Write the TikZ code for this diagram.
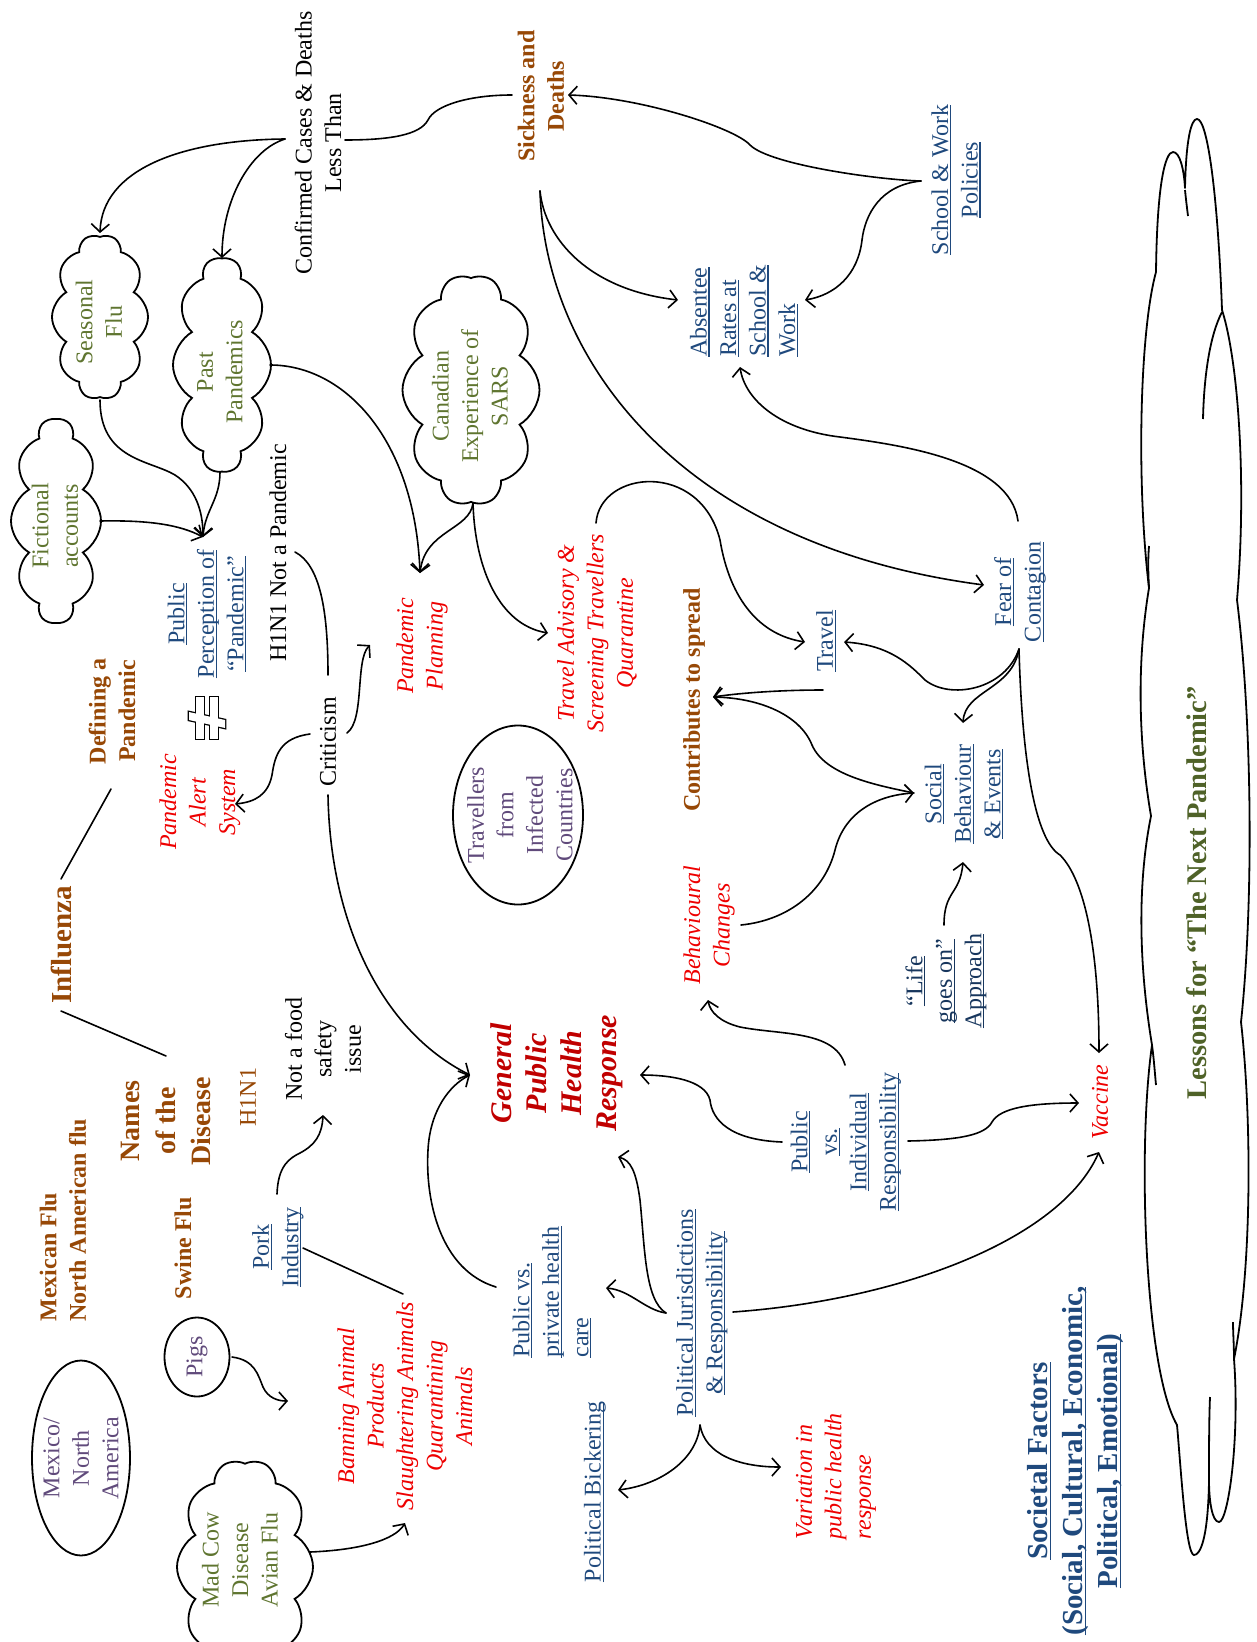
\documentclass[tikz,border=0pt]{standalone}
\usepackage{fontspec}
\setmainfont{Liberation Serif}
\usetikzlibrary{shapes.symbols,shapes.geometric,arrows.meta}
\definecolor{brn}{HTML}{974806}
\definecolor{grn}{HTML}{5F7530}
\definecolor{dgrn}{HTML}{4F6228}
\definecolor{blu}{HTML}{1F497D}
\definecolor{nav}{HTML}{17365D}
\definecolor{rd}{HTML}{EE0000}
\definecolor{drd}{HTML}{C00000}
\definecolor{pur}{HTML}{604A7B}
\newcommand\myfs{\fontsize{24bp}{29.5bp}\selectfont}
\newcommand\ulx[1]{\setbox0\hbox{#1}\leavevmode\rlap{\rule[-3bp]{\wd0}{1.1bp}}\box0}
\begin{document}
\begin{tikzpicture}[x=1bp,y=-1bp,
  txt/.style={rotate=90, align=center, inner sep=1bp, font=\myfs, text=black},
  bl/.style={txt, text=blu},
  rdi/.style={txt, text=rd, font=\myfs\itshape},
  bb/.style={txt, text=brn, font=\myfs\bfseries},
  gr/.style={txt, text=grn},
  pu/.style={txt, text=pur},
  con/.style={line width=1.6bp, line cap=round},
  arr/.style={con, -{Straight Barb[length=8bp,width=18bp]}},
  cld/.style={cloud, draw, line width=1.8bp, cloud puffs=10, cloud puff arc=120, cloud ignores aspect, rotate=90, inner sep=0pt},
  oval/.style={ellipse, draw, line width=1.8bp, rotate=90, inner sep=0pt},
  bigcloud/.style={line width=1.8bp, line join=round}
]
\useasboundingbox (0,0) rectangle (1256,1642);
% ---------- nodes
\node[txt] (conf) at (318,143) {Confirmed Cases \& Deaths\\Less Than};
\node[bb] (sick) at (541,96) {Sickness and\\Deaths};
\node[bl] (swp) at (956,180) {\ulx{School \& Work}\\\ulx{Policies}};
\node[bl, align=left] (abs) at (744,311) {\ulx{Absentee}\\\ulx{Rates at}\\\ulx{School \&}\\\ulx{Work}};
\node[cld, minimum width=165bp, minimum height=96bp] (seaC) at (100,317) {};
\node[gr] (sea) at (99,322) {Seasonal\\Flu};
\node[cld, minimum width=214bp, minimum height=98bp] (pastC) at (222,365) {};
\node[gr] (past) at (220,372) {Past\\Pandemics};
\node[cld, minimum width=204bp, minimum height=90bp] (fictC) at (56,521) {};
\node[gr] (fict) at (55,526) {Fictional\\accounts};
\node[cld, minimum width=231bp, minimum height=137bp] (sarsC) at (471,390) {};
\node[gr] (sars) at (470,396) {Canadian\\Experience of\\SARS};
\node[cld, minimum width=215bp, minimum height=136bp] (madC) at (245,1567) {};
\node[gr] (mad) at (240,1560) {Mad Cow\\Disease\\Avian Flu};
% big cloud drawn as a path
\draw[bigcloud] (1156,272) .. controls (1157,185) and (1165,152) .. (1173,152)
  .. controls (1180,152) and (1184,170) .. (1185,188)
  .. controls (1186,140) and (1191,119) .. (1197,119)
  .. controls (1208,119) and (1218,200) .. (1222,310)
  .. controls (1238,360) and (1247,480) .. (1237,600)
  .. controls (1252,720) and (1254,900) .. (1241,1022)
  .. controls (1252,1120) and (1252,1270) .. (1234,1359)
  .. controls (1240,1440) and (1228,1522) .. (1219,1522)
  .. controls (1212,1522) and (1209,1500) .. (1209,1481)
  .. controls (1208,1540) and (1200,1555) .. (1194,1555)
  .. controls (1186,1555) and (1181,1470) .. (1177,1425)
  .. controls (1145,1370) and (1137,1150) .. (1152,1045)
  .. controls (1138,960) and (1138,880) .. (1151,816)
  .. controls (1138,740) and (1137,660) .. (1149,588)
  .. controls (1136,480) and (1140,330) .. (1156,272) -- cycle;
\draw[bigcloud] (1185,190) .. controls (1186,200) and (1187,208) .. (1188,216);
\draw[bigcloud] (1222,312) .. controls (1210,335) and (1204,375) .. (1203,419);
\draw[bigcloud] (1209,1481) .. controls (1209,1450) and (1209,1420) .. (1210,1397);
\draw[bigcloud] (1234,1359) .. controls (1234,1345) and (1233,1333) .. (1233,1322);
\draw[bigcloud] (1152,1045) .. controls (1154,1060) and (1155,1075) .. (1156,1085);
\draw[bigcloud] (1149,588) .. controls (1148,570) and (1148,558) .. (1149,546);
\node[txt, text=dgrn, font=\fontsize{28.5bp}{34bp}\selectfont\bfseries] (less) at (1197,893) {Lessons for “The Next Pandemic”};
\node[bl] (pp) at (207,614) {\ulx{Public}\\\ulx{Perception of}\\\ulx{“Pandemic”}};
\node[txt] (h1n1) at (278,553) {H1N1 Not a Pandemic};
\node[txt] (crit) at (328,742) {Criticism};
\node[rdi] (pas) at (200,802) {Pandemic\\Alert\\System};
\node[bb] (def) at (112,711) {Defining a\\Pandemic};
\node[txt, text=brn, font=\fontsize{29bp}{35bp}\selectfont\bfseries] (infl) at (61,945) {Influenza};
\node[txt, text=brn, font=\fontsize{28bp}{35.5bp}\selectfont\bfseries] (names) at (166,1121) {Names\\of the\\Disease};
\node[txt, text=brn] (h1) at (248,1097) {H1N1};
\node[txt] (food) at (323,1049) {Not a food\\safety\\issue};
\node[bb, align=left] (mex) at (63,1220) {Mexican Flu\\North American flu};
\node[bb] (swine) at (183,1248) {Swine Flu};
\node[bl] (pork) at (278,1247) {\ulx{Pork}\\\ulx{Industry}};
\node[oval, minimum width=79bp, minimum height=65bp] (pigsE) at (197,1357) {};
\node[pu] (pigs) at (197,1357) {Pigs};
\node[oval, minimum width=195bp, minimum height=98bp] (mexE) at (81,1458) {};
\node[pu] (mexo) at (81,1458) {Mexico/\\North\\America};
\node[rdi] (ban) at (405,1406) {Banning Animal\\Products\\Slaughtering Animals\\Quarantining\\Animals};
\node[rdi] (plan) at (422,646) {Pandemic\\Planning};
\node[rdi] (trav) at (597,633) {Travel Advisory \&\\Screening Travellers\\Quarantine};
\node[oval, minimum width=179bp, minimum height=130bp] (travE) at (518,815) {};
\node[pu] (travl) at (520,815) {Travellers\\from\\Infected\\Countries};
\node[bb] (contr) at (694,700) {Contributes to spread};
\node[bl] (travel) at (826,641) {\ulx{Travel}};
\node[bl] (fear) at (1020,592) {\ulx{Fear of}\\\ulx{Contagion}};
\node[bl] (soc) at (964,794) {\ulx{Social}\\\ulx{Behaviour}\\\ulx{\& Events}};
\node[txt, text=nav] (life) at (946,981) {\ulx{“Life}\\\ulx{goes on”}\\\ulx{Approach}};
\node[rdi] (beh) at (709,925) {Behavioural\\Changes};
\node[txt, text=drd, font=\fontsize{30bp}{35bp}\selectfont\bfseries\itshape] (gphr) at (557,1073) {General\\Public\\Health\\Response};
\node[bl] (pvi) at (846,1142) {\ulx{Public}\\\ulx{vs.}\\\ulx{Individual}\\\ulx{Responsibility}};
\node[rdi] (vac) at (1100,1102) {Vaccine};
\node[bl, align=left] (pvp) at (552,1292) {\ulx{Public vs.}\\\ulx{private health}\\\ulx{care}};
\node[bl] (pj) at (702,1313) {\ulx{Political Jurisdictions}\\\ulx{\& Responsibility}};
\node[bl] (pb) at (595,1492) {\ulx{Political Bickering}};
\node[rdi, align=left] (var) at (836,1476) {Variation in\\public health\\response};
\node[txt, text=blu, font=\fontsize{29bp}{35bp}\selectfont\bfseries] (soci) at (1076,1461) {\ulx{Societal Factors}\\\ulx{(Social, Cultural, Economic,}\\\ulx{Political, Emotional)}};
% not-equal sign
\draw[line width=2.6bp] (196,697) rectangle (204,739);
\draw[line width=2.6bp] (210,697) rectangle (218,739);
\draw[line width=2.6bp] (189,712) -- (225,720) -- (225,728) -- (189,720) -- cycle;
\fill[white] (196,697) rectangle (204,739);
\fill[white] (210,697) rectangle (218,739);
\fill[white] (189,712) -- (225,720) -- (225,728) -- (189,720) -- cycle;
% ---------- connector end points
\coordinate (conf-l) at (285,139);
\coordinate (sea-t) at (100,233);
\coordinate (past-t) at (222,258);
\coordinate (conf-r) at (345,140);
\coordinate (sick-l) at (512,95);
\coordinate (swp-l) at (921,181);
\coordinate (sick-r) at (568,95);
\coordinate (abs-r) at (805,300);
\coordinate (sick-b) at (540,191);
\coordinate (abs-l) at (678,300);
\coordinate (fear-l) at (984,585);
\coordinate (fear-t) at (1018,521);
\coordinate (abs-b) at (740,367);
\coordinate (trav-t) at (596,523);
\coordinate (travel-w) at (805,642);
\coordinate (travel-e) at (844,642);
\coordinate (travel-b) at (823,690);
\coordinate (sars-b) at (473,503);
\coordinate (plan-t) at (420,573);
\coordinate (trav-l) at (548,633);
\coordinate (past-r) at (270,365);
\coordinate (sea-b) at (100,400);
\coordinate (pp-t) at (203,537);
\coordinate (past-b) at (220,472);
\coordinate (fict-r) at (100,521);
\coordinate (h1n1-r) at (295,552);
\coordinate (crit-t) at (328,675);
\coordinate (crit-r) at (347,733);
\coordinate (plan-l) at (370,645);
\coordinate (crit-l) at (310,734);
\coordinate (pas-r) at (235,804);
\coordinate (crit-b) at (328,795);
\coordinate (gphr-l) at (470,1075);
\coordinate (pvp-l) at (496,1287);
\coordinate (pvi-l) at (782,1142);
\coordinate (gphr-r) at (640,1075);
\coordinate (pvi-t) at (845,1065);
\coordinate (beh-b) at (708,1000);
\coordinate (pj-l) at (666,1313);
\coordinate (gphr-b) at (618,1157);
\coordinate (pvp-r) at (606,1288);
\coordinate (pj-b) at (700,1425);
\coordinate (pb-r) at (618,1490);
\coordinate (var-l) at (781,1467);
\coordinate (pj-r) at (733,1312);
\coordinate (vac-b) at (1099,1152);
\coordinate (pvi-r) at (908,1141);
\coordinate (vac-l) at (1079,1103);
\coordinate (fear-b) at (1019,649);
\coordinate (vac-t) at (1099,1053);
\coordinate (soc-t) at (963,723);
\coordinate (life-t) at (944,925);
\coordinate (soc-b) at (963,862);
\coordinate (beh-r) at (741,925);
\coordinate (soc-l) at (914,793);
\coordinate (contr-r) at (713,697);
\coordinate (pork-t) at (277,1194);
\coordinate (food-b) at (323,1115);
\coordinate (pork-r) at (303,1248);
\coordinate (ban-t) at (403,1294);
\coordinate (pigs-r) at (232,1357);
\coordinate (pigs-tip) at (288,1401);
\coordinate (mad-r) at (310,1552);
\coordinate (ban-b) at (405,1523);
\coordinate (infl-t) at (61,879);
\coordinate (def-b) at (111,789);
\coordinate (infl-b) at (61,1011);
\coordinate (names-t) at (166,1056);
% ---------- connectors
\draw[arr] (conf-l) .. controls (180,140) and (102,170) .. (sea-t);
\draw[arr] (conf-l) .. controls (250,150) and (222,200) .. (past-t);
\draw[con] (conf-r) .. controls (390,140) and (420,135) .. (428,120) .. controls (435,105) and (470,95) .. (sick-l);
\draw[arr] (swp-l) .. controls (880,180) and (770,165) .. (750,145) .. controls (735,128) and (640,97) .. (sick-r);
\draw[arr] (swp-l) .. controls (880,185) and (865,215) .. (862,240) .. controls (858,275) and (835,295) .. (abs-r);
\draw[arr] (sick-b) .. controls (545,240) and (590,290) .. (abs-l);
\draw[arr] (sick-b) .. controls (545,360) and (680,545) .. (fear-l);
\draw[arr] (fear-t) .. controls (1010,460) and (900,445) .. (840,437) .. controls (780,430) and (745,400) .. (abs-b);
\draw[arr] (trav-t) .. controls (600,470) and (700,460) .. (720,540) .. controls (730,600) and (760,635) .. (travel-w);
\draw[arr] (sars-b) .. controls (470,530) and (425,530) .. (plan-t);
\draw[arr] (sars-b) .. controls (475,570) and (500,625) .. (trav-l);
\draw[arr] (past-r) .. controls (345,365) and (415,440) .. (plan-t);
\draw[arr] (sea-b) .. controls (100,460) and (150,460) .. (175,475) .. controls (195,488) and (203,510) .. (pp-t);
\draw[arr] (past-b) .. controls (220,500) and (205,510) .. (pp-t);
\draw[arr] (fict-r) .. controls (150,520) and (180,525) .. (pp-t);
\draw[con] (h1n1-r) .. controls (320,565) and (328,610) .. (crit-t);
\draw[arr] (crit-r) .. controls (365,720) and (355,660) .. (plan-l);
\draw[arr] (crit-l) .. controls (280,738) and (275,755) .. (272,775) .. controls (268,795) and (255,802) .. (pas-r);
\draw[arr] (crit-b) .. controls (330,920) and (380,1030) .. (gphr-l);
\draw[arr] (pvp-l) .. controls (440,1270) and (425,1200) .. (428,1150) .. controls (430,1110) and (450,1085) .. (gphr-l);
\draw[arr] (pvi-l) .. controls (730,1140) and (712,1120) .. (710,1100) .. controls (705,1080) and (670,1075) .. (gphr-r);
\draw[arr] (pvi-t) .. controls (835,1030) and (780,1035) .. (740,1027) .. controls (720,1022) and (710,1012) .. (beh-b);
\draw[arr] (pj-l) .. controls (645,1300) and (645,1250) .. (640,1200) .. controls (636,1170) and (630,1160) .. (gphr-b);
\draw[arr] (pj-l) .. controls (645,1310) and (630,1290) .. (pvp-r);
\draw[arr] (pj-b) .. controls (697,1460) and (660,1485) .. (pb-r);
\draw[arr] (pj-b) .. controls (705,1455) and (740,1467) .. (var-l);
\draw[arr] (pj-r) .. controls (900,1300) and (1060,1240) .. (vac-b);
\draw[arr] (pvi-r) .. controls (960,1140) and (985,1135) .. (992,1122) .. controls (1000,1108) and (1030,1103) .. (vac-l);
\draw[arr] (fear-b) .. controls (1022,760) and (1035,840) .. (1060,855) .. controls (1085,880) and (1099,950) .. (vac-t);
\draw[arr] (fear-b) .. controls (1005,690) and (950,700) .. (925,680) .. controls (910,665) and (890,645) .. (travel-e);
\draw[arr] (fear-b) .. controls (1012,690) and (965,690) .. (soc-t);
\draw[arr] (life-t) .. controls (944,890) and (960,895) .. (soc-b);
\draw[arr] (beh-r) .. controls (790,920) and (825,890) .. (835,850) .. controls (845,810) and (880,795) .. (soc-l);
\draw[arr] (soc-l) .. controls (875,785) and (825,775) .. (812,745) .. controls (800,715) and (760,698) .. (contr-r);
\draw[arr] (travel-b) .. controls (780,690) and (740,693) .. (contr-r);
\draw[arr] (pork-t) .. controls (278,1165) and (290,1158) .. (300,1153) .. controls (315,1145) and (322,1135) .. (food-b);
\draw[con] (pork-r) -- (ban-t);
\draw[arr] (pigs-r) .. controls (255,1360) and (258,1375) .. (263,1387) .. controls (268,1398) and (278,1401) .. (pigs-tip);
\draw[arr] (mad-r) .. controls (360,1550) and (395,1540) .. (ban-b);
\draw[con] (infl-t) -- (def-b);
\draw[con] (infl-b) -- (names-t);
\end{tikzpicture}
\end{document}
